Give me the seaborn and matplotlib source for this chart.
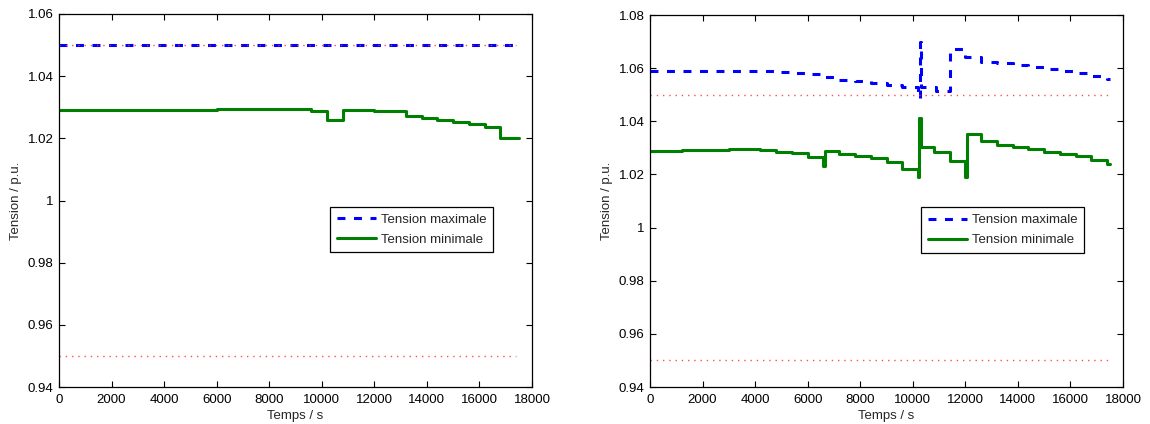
import seaborn as sns
import matplotlib.pyplot as plt
from matplotlib.lines import Line2D

# ---- left panel data ----
left_t_max = [0, 17500]
left_v_max = [1.05, 1.05]
left_t_min = [0, 1200, 3600, 6000, 9600, 10200, 10800, 12000, 13200, 13800,
              14400, 15000, 15600, 16200, 16800, 17500]
left_v_min = [1.0290, 1.0291, 1.0291, 1.0293, 1.0288, 1.0259, 1.0291, 1.0287,
              1.0273, 1.0266, 1.0259, 1.0251, 1.0247, 1.0238, 1.0201, 1.0201]
left_t_lim = [0, 17400]

# ---- right panel data ----
right_t_max = [0, 1200, 4200, 4800, 5400, 6000, 6600, 7200, 7800, 8400, 9000,
               9600, 10200, 10230, 10290, 10330, 10900, 11400, 12000, 12600,
               13200, 13800, 14400, 15000, 15600, 16200, 16800, 17400, 17500]
right_v_max = [1.0590, 1.0591, 1.0589, 1.0585, 1.0583, 1.0578, 1.0565, 1.0557,
               1.0550, 1.0543, 1.0537, 1.0528, 1.0512, 1.0487, 1.0697, 1.0530,
               1.0515, 1.0671, 1.0643, 1.0625, 1.0619, 1.0612, 1.0604, 1.0596,
               1.0589, 1.0580, 1.0570, 1.0558, 1.0558]
right_t_min = [0, 1200, 3000, 4200, 4800, 5400, 6000, 6600, 6650, 7200, 7800,
               8400, 9000, 9600, 10200, 10250, 10300, 10800, 11400, 12000,
               12050, 12600, 13200, 13800, 14400, 15000, 15600, 16200, 16800,
               17400, 17500]
right_v_min = [1.0289, 1.0293, 1.0297, 1.0293, 1.0285, 1.0281, 1.0264, 1.0231,
               1.0289, 1.0275, 1.0268, 1.0263, 1.0245, 1.0222, 1.0191, 1.0411,
               1.0302, 1.0283, 1.0249, 1.0191, 1.0351, 1.0325, 1.0312, 1.0304,
               1.0295, 1.0286, 1.0276, 1.0268, 1.0254, 1.0239, 1.0239]
right_t_lim = [0, 17500]

v_limits = [0.95, 1.05]
x_ticks = list(range(0, 18001, 2000))
left_y_ticks = [0.94, 0.96, 0.98, 1.00, 1.02, 1.04, 1.06]
right_y_ticks = [0.94, 0.96, 0.98, 1.00, 1.02, 1.04, 1.06, 1.08]
labels = ['Tension maximale', 'Tension minimale']

sns.set_theme(style='ticks')
plt.rcParams['font.family'] = ['Liberation Sans', 'DejaVu Sans']
plt.rcParams['font.size'] = 9.5

fig = plt.figure(figsize=(11.5, 4.24), dpi=100)
ax1 = fig.add_axes([59 / 1150, 37 / 424, 473 / 1150, 373 / 424])
ax2 = fig.add_axes([650 / 1150, 37 / 424, 473 / 1150, 372 / 424])

max_style = (0, (2.6, 2.8))


def ytick_label(v):
    s = f'{v:.2f}'
    return '1' if s == '1.00' else s


def draw_panel(ax, t_max, v_max, t_min, v_min, t_lim, yticks):
    sns.lineplot(x=t_max, y=v_max, ax=ax, color='blue', lw=2.2,
                 linestyle=max_style, drawstyle='steps-post',
                 estimator=None, sort=False)
    sns.lineplot(x=t_min, y=v_min, ax=ax, color='#008000', lw=2.2,
                 drawstyle='steps-post', estimator=None, sort=False)
    for lv in v_limits:
        sns.lineplot(x=t_lim, y=[lv, lv], ax=ax, color='#ff3030', lw=1.0,
                     linestyle=(0, (1, 3.5)), alpha=0.85,
                     estimator=None, sort=False)
    ax.set_xlim(0, 18000)
    ax.set_ylim(yticks[0], yticks[-1])
    ax.set_xticks(x_ticks)
    ax.set_xticklabels([str(x) for x in x_ticks])
    ax.set_yticks(yticks)
    ax.set_yticklabels([ytick_label(v) for v in yticks])
    ax.tick_params(direction='in', top=True, right=True, length=4,
                   width=0.8, labelsize=9.5, colors='black')
    ax.tick_params(axis='x', pad=5)
    ax.tick_params(axis='y', pad=4)
    for sp in ax.spines.values():
        sp.set_visible(True)
        sp.set_color('black')
        sp.set_linewidth(0.9)
    ax.set_xlabel('Temps / s', fontsize=9.5, labelpad=3)
    ax.set_ylabel('Tension / p.u.', fontsize=9.5, labelpad=4)
    handles = [Line2D([], [], color='blue', lw=2.2, linestyle=max_style),
               Line2D([], [], color='#008000', lw=2.2)]
    leg = ax.legend(handles, labels, loc='upper left',
                    bbox_to_anchor=(0.573, 0.483), fontsize=9.5,
                    handlelength=3.0, handletextpad=0.35, labelspacing=0.6,
                    borderpad=0.5, borderaxespad=0, fancybox=False,
                    framealpha=1, edgecolor='black')
    leg.get_frame().set_linewidth(0.9)


draw_panel(ax1, left_t_max, left_v_max, left_t_min, left_v_min,
           left_t_lim, left_y_ticks)
draw_panel(ax2, right_t_max, right_v_max, right_t_min, right_v_min,
           right_t_lim, right_y_ticks)

fig.savefig('out.png', dpi=100)
